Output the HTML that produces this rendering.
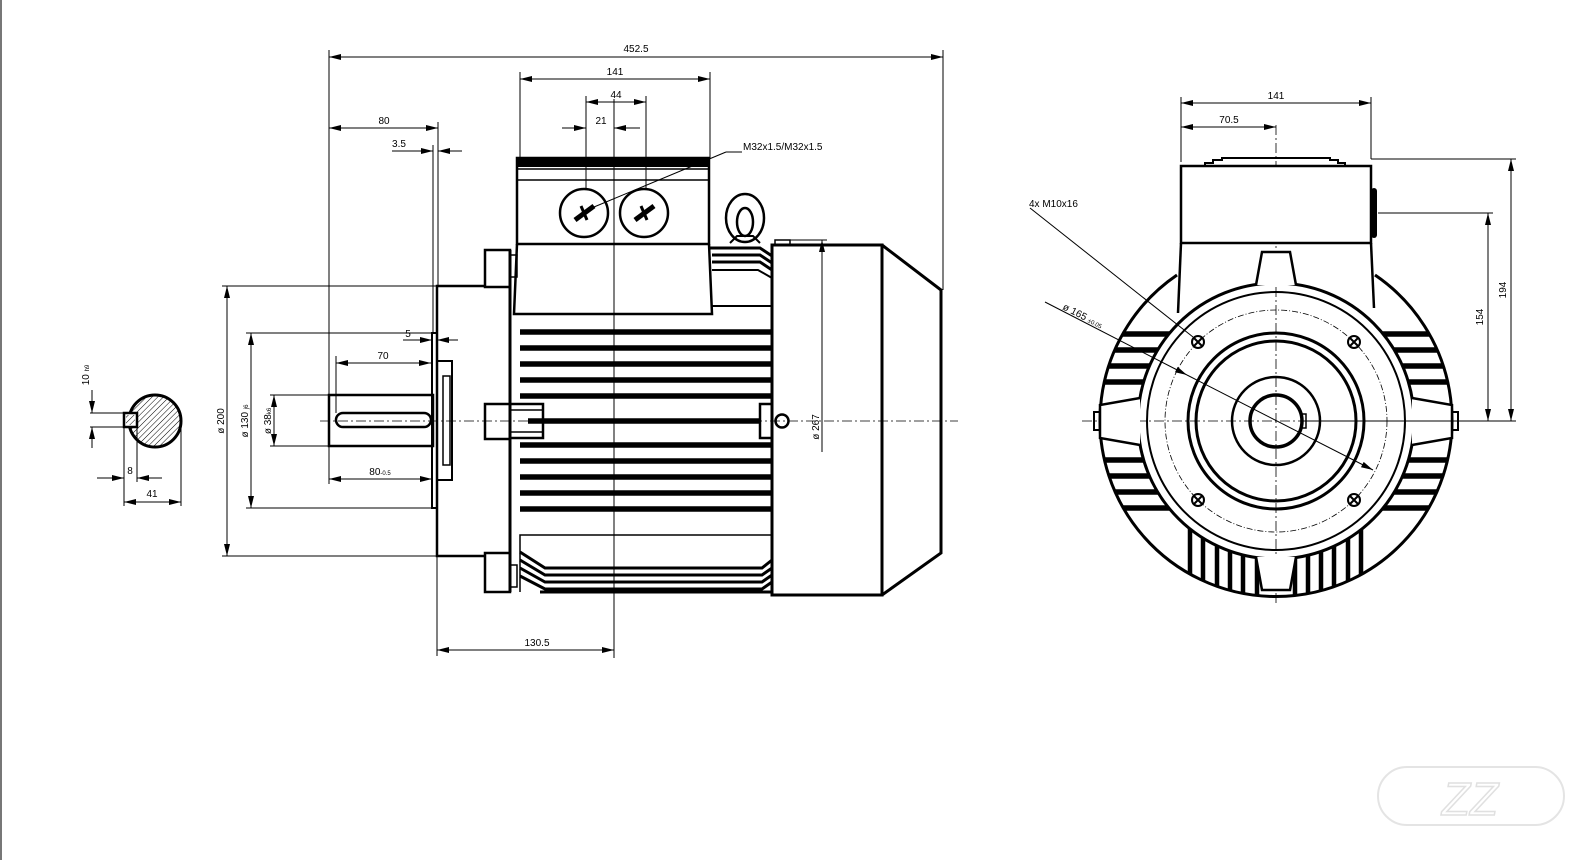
<!DOCTYPE html>
<html><head><meta charset="utf-8"><style>
html,body{margin:0;padding:0;background:#fff;}
svg{display:block;}
text{font-family:"Liberation Sans","DejaVu Sans",sans-serif;font-size:10px;fill:#000;}
</style></head><body>
<svg width="1596" height="860" viewBox="0 0 1596 860" xmlns="http://www.w3.org/2000/svg">
<defs>
<marker id="a" viewBox="0 0 12 6" refX="12" refY="3" markerWidth="12" markerHeight="6" markerUnits="userSpaceOnUse" orient="auto-start-reverse"><path d="M0,0 L12,3 L0,6 z" fill="#000"/></marker>
<pattern id="h" width="4" height="4" patternUnits="userSpaceOnUse" patternTransform="rotate(45)"><line x1="0" y1="0" x2="0" y2="4" stroke="#000" stroke-width="1"/></pattern>
<clipPath id="ann"><path clip-rule="evenodd" d="M1100,421 a176,176 0 1,0 352,0 a176,176 0 1,0 -352,0 Z M1138,421 a138,138 0 1,0 276,0 a138,138 0 1,0 -276,0 Z"/></clipPath>
</defs>
<rect x="0" y="0" width="2" height="860" fill="#777"/>

<!-- ===== MAIN VIEW ===== -->
<g stroke="#000" fill="none">
<!-- center axis -->
<line x1="320" y1="421" x2="958" y2="421" stroke-width="0.8" stroke-dasharray="10,3,2,3"/>
<!-- vertical reference line -->
<line x1="614" y1="99" x2="614" y2="658" stroke-width="1"/>
<!-- shaft -->
<rect x="329" y="395" width="104" height="51" stroke-width="2.5"/>
<rect x="336" y="413" width="95" height="14" rx="7" stroke-width="2.5"/>
<!-- spigot plate -->
<rect x="432" y="333" width="5" height="175" stroke-width="2"/>
<rect x="437" y="361" width="15" height="119" stroke-width="2"/>
<rect x="443" y="376" width="7" height="89" stroke-width="1.5"/>
<!-- flange -->
<path d="M485,286 H437 V556 H485" stroke-width="2.5"/>
<rect x="485" y="250" width="25" height="37" stroke-width="2.5"/>
<rect x="485" y="553" width="25" height="39" stroke-width="2.5"/>
<rect x="510" y="255" width="7" height="22" stroke-width="1.5"/>
<rect x="510" y="565" width="7" height="22" stroke-width="1.5"/>
<line x1="510" y1="250" x2="510" y2="592" stroke-width="3"/>
<!-- terminal box -->
<rect x="517" y="158" width="192" height="86" stroke-width="2.5"/>
<rect x="517" y="158" width="192" height="9" fill="#000" stroke-width="0"/>
<line x1="517" y1="169" x2="709" y2="169" stroke-width="1.5"/>
<line x1="517" y1="180" x2="709" y2="180" stroke-width="1.5"/>
<path d="M517,244 L514,314 H712 L709,244" stroke-width="2.5"/>
<line x1="712" y1="306" x2="772" y2="306" stroke-width="2"/>
<!-- glands -->
<circle cx="584" cy="213" r="24" stroke-width="2.5"/>
<circle cx="644" cy="213" r="24" stroke-width="2.5"/>
<line x1="575" y1="220" x2="594" y2="206" stroke-width="5"/>
<line x1="581" y1="206" x2="587" y2="220" stroke-width="3"/>
<line x1="635" y1="220" x2="654" y2="206" stroke-width="5"/>
<line x1="641" y1="206" x2="647" y2="220" stroke-width="3"/>
<!-- eyebolt -->
<ellipse cx="745" cy="218" rx="19" ry="24" stroke-width="2.5"/>
<ellipse cx="745" cy="222" rx="8" ry="14" stroke-width="2.5"/>
<path d="M730,243 L737,236 H753 L760,243" stroke-width="2"/>
<!-- cooling stack near eyebolt -->
<path d="M710,248 H760 L772,256" stroke-width="3"/>
<path d="M712,255 H760 L772,263" stroke-width="3"/>
<path d="M712,262 H760 L772,270" stroke-width="3"/>
<path d="M712,270 H758 L772,278" stroke-width="2"/>
<!-- fins -->
<g stroke-width="5.5">
<line x1="520" y1="332" x2="772" y2="332"/><line x1="520" y1="348" x2="772" y2="348"/>
<line x1="520" y1="364" x2="772" y2="364"/><line x1="520" y1="380" x2="772" y2="380"/>
<line x1="520" y1="396" x2="772" y2="396"/><line x1="528" y1="421" x2="760" y2="421"/>
<line x1="520" y1="445" x2="772" y2="445"/><line x1="520" y1="461" x2="772" y2="461"/>
<line x1="520" y1="477" x2="772" y2="477"/><line x1="520" y1="493" x2="772" y2="493"/>
<line x1="520" y1="509" x2="772" y2="509"/>
</g>
<!-- terminal pads -->
<rect x="485" y="404" width="25" height="35" stroke-width="2.5"/>
<rect x="510" y="404" width="33" height="34" stroke-width="2.5"/>
<line x1="510" y1="410" x2="543" y2="410" stroke-width="1.5"/>
<line x1="510" y1="432" x2="543" y2="432" stroke-width="1.5"/>
<rect x="760" y="404" width="12" height="34" stroke-width="2.5"/>
<circle cx="782" cy="421" r="6.5" stroke-width="2.5"/>
<!-- bottom fin block -->
<path d="M772,535 H520 V592" stroke-width="1.5"/>
<path d="M520,552 L545,568 H762 L772,560" stroke-width="3"/>
<path d="M520,560 L545,575 H762 L772,568" stroke-width="3"/>
<path d="M520,568 L545,582 H762 L772,575" stroke-width="3"/>
<path d="M520,576 L545,589 H762 L772,582" stroke-width="3"/>
<line x1="540" y1="592" x2="772" y2="592" stroke-width="3"/>
<!-- fan cover -->
<rect x="772" y="245" width="110" height="350" stroke-width="3"/>
<path d="M882,245 L941,290 V553 L882,595" stroke-width="3"/>
<rect x="775" y="240" width="15" height="5" stroke-width="1.5"/>
</g>

<!-- main dims -->
<g stroke="#000" stroke-width="1" fill="none">
<line x1="329" y1="50" x2="329" y2="395"/>
<line x1="943" y1="50" x2="943" y2="290"/>
<line x1="329" y1="57" x2="943" y2="57" marker-start="url(#a)" marker-end="url(#a)"/>
<line x1="520" y1="72" x2="520" y2="158"/>
<line x1="710" y1="72" x2="710" y2="158"/>
<line x1="520" y1="79" x2="710" y2="79" marker-start="url(#a)" marker-end="url(#a)"/>
<line x1="586" y1="96" x2="586" y2="190"/>
<line x1="646" y1="96" x2="646" y2="190"/>
<line x1="586" y1="102" x2="646" y2="102" marker-start="url(#a)" marker-end="url(#a)"/>
<line x1="562" y1="128" x2="586" y2="128" marker-end="url(#a)"/>
<line x1="640" y1="128" x2="614" y2="128" marker-end="url(#a)"/>
<line x1="438" y1="122" x2="438" y2="286"/>
<line x1="433" y1="145" x2="433" y2="333"/>
<line x1="329" y1="128" x2="438" y2="128" marker-start="url(#a)" marker-end="url(#a)"/>
<line x1="392" y1="151" x2="433" y2="151" marker-end="url(#a)"/>
<line x1="462" y1="151" x2="438" y2="151" marker-end="url(#a)"/>
<line x1="403" y1="340" x2="432" y2="340" marker-end="url(#a)"/>
<line x1="458" y1="340" x2="437" y2="340" marker-end="url(#a)"/>
<line x1="336" y1="356" x2="336" y2="413"/>
<line x1="336" y1="363" x2="431" y2="363" marker-start="url(#a)" marker-end="url(#a)"/>
<line x1="329" y1="446" x2="329" y2="484"/>
<line x1="329" y1="479" x2="432" y2="479" marker-start="url(#a)" marker-end="url(#a)"/>
<line x1="222" y1="286" x2="437" y2="286"/>
<line x1="222" y1="556" x2="437" y2="556"/>
<line x1="227" y1="286" x2="227" y2="556" marker-start="url(#a)" marker-end="url(#a)"/>
<line x1="246" y1="333" x2="432" y2="333"/>
<line x1="246" y1="508" x2="432" y2="508"/>
<line x1="251" y1="333" x2="251" y2="508" marker-start="url(#a)" marker-end="url(#a)"/>
<line x1="270" y1="395" x2="329" y2="395"/>
<line x1="270" y1="446" x2="329" y2="446"/>
<line x1="274" y1="395" x2="274" y2="446" marker-start="url(#a)" marker-end="url(#a)"/>
<line x1="790" y1="240" x2="827" y2="240"/>
<line x1="822" y1="240" x2="822" y2="452" marker-start="url(#a)"/>
<line x1="437" y1="556" x2="437" y2="656"/>
<line x1="437" y1="650" x2="614" y2="650" marker-start="url(#a)" marker-end="url(#a)"/>
<line x1="594" y1="207" x2="726" y2="152"/>
<line x1="726" y1="152" x2="742" y2="152"/>
</g>
<g>
<text x="636" y="52" text-anchor="middle">452.5</text>
<text x="615" y="75" text-anchor="middle">141</text>
<text x="616" y="98" text-anchor="middle">44</text>
<text x="601" y="124" text-anchor="middle">21</text>
<text x="384" y="124" text-anchor="middle">80</text>
<text x="399" y="147" text-anchor="middle">3.5</text>
<text x="408" y="337" text-anchor="middle">5</text>
<text x="383" y="359" text-anchor="middle">70</text>
<text x="380" y="475" text-anchor="middle">80<tspan font-size="6">-0.5</tspan></text>
<text x="743" y="150">M32x1.5/M32x1.5</text>
<text x="537" y="646" text-anchor="middle">130.5</text>
<text transform="translate(224,421) rotate(-90)" text-anchor="middle">ø 200</text>
<text transform="translate(248,421) rotate(-90)" text-anchor="middle">ø 130 <tspan font-size="6">j6</tspan></text>
<text transform="translate(271,421) rotate(-90)" text-anchor="middle">ø 38<tspan font-size="6">k6</tspan></text>
<text transform="translate(819,427) rotate(-90)" text-anchor="middle">ø 267</text>
</g>

<!-- ===== SECTION ===== -->
<g stroke="#000" fill="none">
<circle cx="155" cy="421" r="26" fill="url(#h)" stroke-width="3"/>
<rect x="124" y="413" width="13" height="14" fill="#fff" stroke-width="2.5"/>
<rect x="126" y="415" width="9" height="10" fill="url(#h)" stroke="none"/>
<g stroke-width="1">
<line x1="90" y1="413" x2="124" y2="413"/>
<line x1="90" y1="427" x2="124" y2="427"/>
<line x1="92" y1="390" x2="92" y2="413" marker-end="url(#a)"/>
<line x1="92" y1="448" x2="92" y2="427" marker-end="url(#a)"/>
<line x1="124" y1="427" x2="124" y2="506"/>
<line x1="137" y1="427" x2="137" y2="482"/>
<line x1="181" y1="421" x2="181" y2="506"/>
<line x1="97" y1="478" x2="124" y2="478" marker-end="url(#a)"/>
<line x1="162" y1="478" x2="137" y2="478" marker-end="url(#a)"/>
<line x1="124" y1="502" x2="181" y2="502" marker-start="url(#a)" marker-end="url(#a)"/>
</g>
</g>
<text transform="translate(89,375) rotate(-90)" text-anchor="middle">10 <tspan font-size="6">h9</tspan></text>
<text x="130" y="474" text-anchor="middle">8</text>
<text x="152" y="497" text-anchor="middle">41</text>

<!-- ===== RIGHT VIEW ===== -->
<g stroke="#000" fill="none">
<line x1="1082" y1="421" x2="1470" y2="421" stroke-width="0.8" stroke-dasharray="10,3,2,3"/>
<line x1="1276" y1="125" x2="1276" y2="604" stroke-width="0.8" stroke-dasharray="10,3,2,3"/>
<!-- fins clipped by annulus -->
<g clip-path="url(#ann)" stroke-width="5.5">
<g id="lf">
<line x1="1090" y1="334" x2="1180" y2="334"/><line x1="1090" y1="350" x2="1180" y2="350"/>
<line x1="1090" y1="366" x2="1180" y2="366"/><line x1="1090" y1="382" x2="1180" y2="382"/>
<line x1="1090" y1="460" x2="1180" y2="460"/><line x1="1090" y1="476" x2="1180" y2="476"/>
<line x1="1090" y1="492" x2="1180" y2="492"/><line x1="1090" y1="508" x2="1180" y2="508"/>
</g>
<use href="#lf" transform="translate(2552,0) scale(-1,1)"/>
<g stroke-width="4.5">
<line x1="1190" y1="520" x2="1190" y2="600"/><line x1="1203" y1="520" x2="1203" y2="600"/>
<line x1="1217" y1="520" x2="1217" y2="600"/><line x1="1230" y1="520" x2="1230" y2="600"/>
<line x1="1243" y1="520" x2="1243" y2="600"/><line x1="1257" y1="520" x2="1257" y2="600"/>
<line x1="1295" y1="520" x2="1295" y2="600"/><line x1="1308" y1="520" x2="1308" y2="600"/>
<line x1="1321" y1="520" x2="1321" y2="600"/><line x1="1334" y1="520" x2="1334" y2="600"/>
<line x1="1348" y1="520" x2="1348" y2="600"/><line x1="1361" y1="520" x2="1361" y2="600"/>
</g>
</g>
<!-- outer arc (hidden under box) -->
<path d="M1177,275 A176,176 0 1,0 1375,275" stroke-width="3"/>
<circle cx="1276" cy="421" r="138" stroke-width="3" fill="#fff" fill-opacity="0"/>
<circle cx="1276" cy="421" r="129" stroke-width="2"/>
<!-- box -->
<rect x="1181" y="166" width="190" height="77" stroke-width="2.5" fill="#fff"/>
<path d="M1181,166 H1205 V163 H1213 V160 H1222 V158 H1330 V160 H1338 V163 H1345 V166" stroke-width="2"/>
<rect x="1371" y="188" width="6" height="50" rx="3" fill="#000" stroke-width="0"/>
<path d="M1181,243 L1178,313" stroke-width="2.5"/>
<path d="M1371,243 L1374,308" stroke-width="2.5"/>
<!-- lugs -->
<path d="M1256,285 L1262,252 H1290 L1296,285" stroke-width="2.5" fill="#fff"/>
<path d="M1256,557 L1262,590 H1290 L1296,557" stroke-width="2.5" fill="#fff"/>
<path d="M1140,398 L1100,405 V438 L1140,445" stroke-width="2.5" fill="#fff"/>
<rect x="1094" y="412" width="6" height="18" stroke-width="2"/>
<path d="M1412,398 L1452,405 V438 L1412,445" stroke-width="2.5" fill="#fff"/>
<rect x="1452" y="412" width="6" height="18" stroke-width="2"/>
<!-- bolt circle -->
<circle cx="1276" cy="421" r="111" stroke-width="0.8" stroke-dasharray="6,2,1,2"/>
<circle cx="1276" cy="421" r="88" stroke-width="3"/>
<circle cx="1276" cy="421" r="80" stroke-width="3"/>
<circle cx="1276" cy="421" r="44" stroke-width="2.5"/>
<circle cx="1276" cy="421" r="26" stroke-width="3.5"/>
<rect x="1302" y="414" width="4" height="14" stroke-width="1.5"/>
<g stroke-width="2">
<circle cx="1198" cy="342" r="6"/><path d="M1194,338 l8,8 M1202,338 l-8,8"/>
<circle cx="1354" cy="342" r="6"/><path d="M1350,338 l8,8 M1358,338 l-8,8"/>
<circle cx="1198" cy="500" r="6"/><path d="M1194,496 l8,8 M1202,496 l-8,8"/>
<circle cx="1354" cy="500" r="6"/><path d="M1350,496 l8,8 M1358,496 l-8,8"/>
</g>
</g>
<g stroke="#000" stroke-width="1" fill="none">
<line x1="1030" y1="208" x2="1193" y2="337"/>
<line x1="1045" y1="302" x2="1187" y2="375" marker-end="url(#a)"/>
<line x1="1187" y1="375" x2="1373" y2="470" marker-end="url(#a)"/>
<line x1="1181" y1="97" x2="1181" y2="162"/>
<line x1="1371" y1="97" x2="1371" y2="159"/>
<line x1="1371" y1="159" x2="1516" y2="159"/>
<line x1="1378" y1="213" x2="1493" y2="213"/>
<line x1="1300" y1="421" x2="1516" y2="421"/>
<line x1="1181" y1="103" x2="1371" y2="103" marker-start="url(#a)" marker-end="url(#a)"/>
<line x1="1181" y1="127" x2="1276" y2="127" marker-start="url(#a)" marker-end="url(#a)"/>
<line x1="1511" y1="159" x2="1511" y2="421" marker-start="url(#a)" marker-end="url(#a)"/>
<line x1="1488" y1="213" x2="1488" y2="421" marker-start="url(#a)" marker-end="url(#a)"/>
</g>
<text x="1276" y="99" text-anchor="middle">141</text>
<text x="1229" y="123" text-anchor="middle">70.5</text>
<text x="1029" y="207">4x  M10x16</text>
<text transform="translate(1062,309) rotate(27)">ø 165 <tspan font-size="6">±0.05</tspan></text>
<text transform="translate(1506,290) rotate(-90)" text-anchor="middle">194</text>
<text transform="translate(1483,317) rotate(-90)" text-anchor="middle">154</text>

<!-- logo (faint) -->
<g fill="none" stroke="#e4e4e4" stroke-width="2">
<rect x="1378" y="767" width="186" height="58" rx="29"/>
</g>
<text x="1470" y="815" text-anchor="middle" style="font-size:46px;font-style:italic;fill:none;stroke:#e0e0e0;stroke-width:1.5">ZZ</text>
</svg>
</body></html>
